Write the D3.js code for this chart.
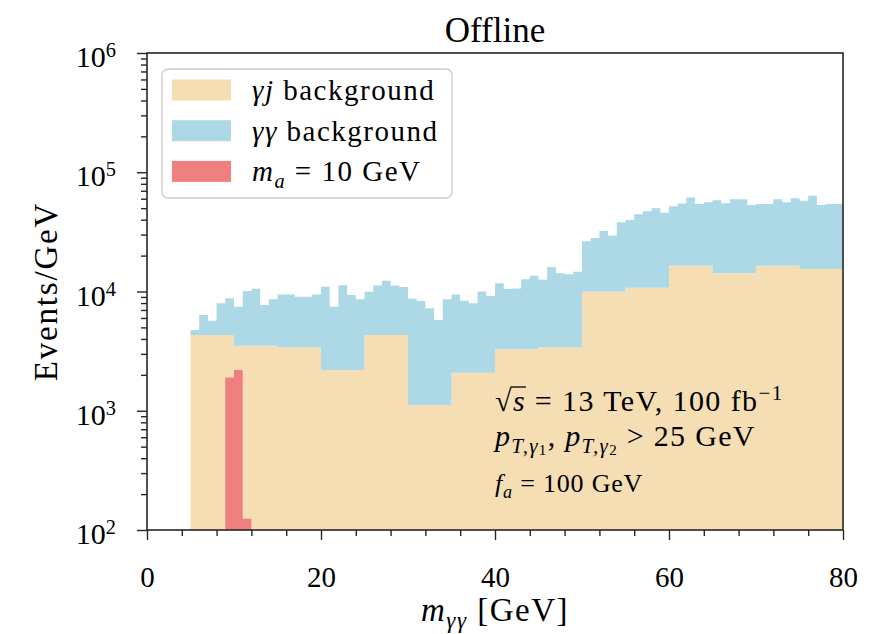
<!DOCTYPE html>
<html>
<head>
<meta charset="utf-8">
<script src="https://cdn.jsdelivr.net/npm/d3@7"></script>
<style>
  body { margin: 0; background: #fff; }
  svg { display: block; }
  text { font-family: "Liberation Serif", "DejaVu Serif", serif; fill: #000; white-space: pre; }
</style>
</head>
<body>
<svg id="chart" width="870" height="634"></svg>
<script>
// gamma+jet background, 5 GeV bins (Events/GeV)
const bgEdges = [5, 10, 15, 20, 25, 30, 35, 40, 45, 50, 55, 60, 65, 70, 75, 80];
const gammaJet = [4320, 3510, 3400, 2200, 4320, 1120, 2080, 3280, 3400, 9950, 10760, 16450, 14210, 16450, 15440];

// diphoton background, 1 GeV bins from 5 to 80 GeV (stacked on gamma+jet)
const diphotonStart = 5;
const diphoton = [
    440,  2030,  1370,  3640,  4450,
   3950,  6590,  7050,  4190,  5090,
   6030,  6030,  5640,  5640,  6030,
   8780,  5260,  9100,  7150,  6420,
   5640,  6910,  7980,  6910,  6590,
   7580,  7200,  6110,  4640,  7480,
   7350,  6290,  5880,  7920,  7080,
   8440,  7220,  7320,  9380, 10290,
   9160, 12650, 10810, 10530, 11250,
  16460, 18140, 22210, 19530, 28090,
  29010, 33640, 36270, 39100, 35020,
  35470, 38140, 44980, 37730, 39650,
  43980, 40700, 45110, 45110, 38930,
  37730, 37730, 42870, 39530, 44030,
  42290, 48020, 37700, 38740, 38740
];

// signal, m_a = 10 GeV
const signalEdges = [9, 10, 11, 12];
const signal = [1900, 2200, 124];

const xTicks = [0, 20, 40, 60, 80];
const xMinorStep = 4;
const yTickExponents = [2, 3, 4, 5, 6];

const colors = { gammaJet: "#f5deb3", diphoton: "#add8e6", signal: "#f08080" };

const svg = d3.select("#chart");
const plot = { left: 147, right: 843, top: 53, bottom: 530 };

const x = d3.scaleLinear().domain([0, 80]).range([plot.left, plot.right]);
const y = d3.scaleLog().domain([1e2, 1e6]).range([plot.bottom, plot.top]);
const yMin = y.domain()[0];

svg.append("defs").append("clipPath").attr("id", "plotClip")
  .append("rect")
  .attr("x", plot.left).attr("y", plot.top)
  .attr("width", plot.right - plot.left).attr("height", plot.bottom - plot.top);

const area = d3.area()
  .x(d => x(d.x))
  .y0(d => y(d.lo))
  .y1(d => y(d.hi));

// flat-topped steps for a histogram
function steps(edges, lo, hi) {
  const pts = [];
  for (let i = 0; i < edges.length - 1; i++) {
    pts.push({ x: edges[i], lo: lo(i), hi: hi(i) });
    pts.push({ x: edges[i + 1], lo: lo(i), hi: hi(i) });
  }
  return pts;
}

const jetIndex = m => bgEdges.findIndex((e, i) => m >= e && m < bgEdges[i + 1]);
const dpEdges = d3.range(diphotonStart, diphotonStart + diphoton.length + 1);
const dpBase = i => gammaJet[jetIndex(dpEdges[i])];

const hist = svg.append("g").attr("clip-path", "url(#plotClip)");

hist.append("path")
  .attr("d", area(steps(bgEdges, () => yMin, i => gammaJet[i])))
  .attr("fill", colors.gammaJet);

hist.append("path")
  .attr("d", area(steps(dpEdges, i => dpBase(i), i => dpBase(i) + diphoton[i])))
  .attr("fill", colors.diphoton);

hist.append("path")
  .attr("d", area(steps(signalEdges, () => yMin, i => signal[i])))
  .attr("fill", colors.signal);

// text with italic / sub / superscript runs
function rich(sel, xPos, yPos, size, parts, anchor, spacing) {
  const t = sel.append("text")
    .attr("x", xPos).attr("y", yPos)
    .attr("font-size", size)
    .attr("letter-spacing", spacing || 0)
    .attr("text-anchor", anchor || "start");
  let cur = 0;
  parts.forEach(p => {
    const shift = (p.shift || 0) * size;
    const ts = t.append("tspan")
      .attr("dy", shift - cur)
      .attr("font-size", (p.scale || 1) * size)
      .text(p.t);
    if (p.it) ts.attr("font-style", "italic");
    cur = shift;
  });
  return t;
}

// axes
const axisColor = "#262626";
const xAxis = svg.append("g").attr("transform", `translate(0,${plot.bottom})`);
xAxis.call(d3.axisBottom(x).tickValues(d3.range(0, 81, xMinorStep).filter(v => !xTicks.includes(v)))
  .tickSize(6).tickFormat(""));
xAxis.call(g => g.select(".domain").remove());
const xMajor = svg.append("g").attr("transform", `translate(0,${plot.bottom})`);
xMajor.call(d3.axisBottom(x).tickValues(xTicks).tickSize(10).tickPadding(47).tickFormat(d3.format("d")));
xMajor.select(".domain").remove();
xMajor.selectAll("text").attr("dy", 0).attr("font-size", 29).attr("font-family", null).attr("fill", "#000");

const yMinorVals = [];
yTickExponents.slice(0, -1).forEach(e => d3.range(2, 10).forEach(m => yMinorVals.push(m * Math.pow(10, e))));
const yAxisMinor = svg.append("g").attr("transform", `translate(${plot.left},0)`);
yAxisMinor.call(d3.axisLeft(y).tickValues(yMinorVals).tickSize(6).tickFormat(""));
yAxisMinor.select(".domain").remove();
const yAxis = svg.append("g").attr("transform", `translate(${plot.left},0)`);
yAxis.call(d3.axisLeft(y).tickValues(yTickExponents.map(e => Math.pow(10, e))).tickSize(10).tickFormat(""));
yAxis.select(".domain").remove();
svg.selectAll(".tick line").attr("stroke", axisColor).attr("stroke-width", 1.4);

yTickExponents.forEach(e => {
  rich(svg, 116, y(Math.pow(10, e)) + 14, 30, [
    { t: "10" },
    { t: String(e), shift: -0.33, scale: 0.68 }
  ], "end");
});

svg.append("rect")
  .attr("x", plot.left).attr("y", plot.top)
  .attr("width", plot.right - plot.left).attr("height", plot.bottom - plot.top)
  .attr("fill", "none").attr("stroke", axisColor).attr("stroke-width", 1.6);

// title and axis labels
svg.append("text").attr("x", (plot.left + plot.right) / 2).attr("y", 42)
  .attr("text-anchor", "middle").attr("font-size", 35).text("Offline");

rich(svg, (plot.left + plot.right) / 2, 621, 33, [
  { t: "m", it: true },
  { t: "γγ", it: true, shift: 0.22, scale: 0.7 },
  { t: " [GeV]" }
], "middle", 1.5);

svg.append("text")
  .attr("transform", `translate(57,${(plot.top + plot.bottom) / 2}) rotate(-90)`)
  .attr("text-anchor", "middle").attr("font-size", 33).attr("letter-spacing", 1.8)
  .text("Events/GeV");

// legend
const legend = svg.append("g");
legend.append("rect")
  .attr("x", 162).attr("y", 69).attr("width", 290).attr("height", 129).attr("rx", 6)
  .attr("fill", "#fff").attr("fill-opacity", 0.8)
  .attr("stroke", "#cccccc").attr("stroke-width", 1.3);
const legendItems = [
  { color: colors.gammaJet, parts: [{ t: "γj", it: true }, { t: " background" }] },
  { color: colors.diphoton, parts: [{ t: "γγ", it: true }, { t: " background" }] },
  { color: colors.signal, parts: [{ t: "m", it: true }, { t: "a", it: true, shift: 0.22, scale: 0.7 }, { t: " = 10 GeV" }] }
];
legendItems.forEach((item, i) => {
  const cy = 90 + i * 40.7;
  legend.append("rect").attr("x", 172).attr("y", cy - 10.5).attr("width", 59).attr("height", 21)
    .attr("fill", item.color);
  rich(legend, 252, cy + 10, 29, item.parts, "start", 1.5);
});

// run conditions
const note = svg.append("g");
const l1 = rich(note, 495, 411, 30, [
  { t: "√" }, { t: "s", it: true }, { t: " = 13 TeV, 100 fb" }, { t: "−1", shift: -0.38, scale: 0.7 }
], "start", 1.4);
const n1 = l1.node();
const rad = n1.getExtentOfChar(0), sch = n1.getExtentOfChar(1);
note.append("line")
  .attr("x1", rad.x + rad.width - 2.5).attr("x2", sch.x + sch.width)
  .attr("y1", rad.y + 3).attr("y2", rad.y + 3)
  .attr("stroke", "#000").attr("stroke-width", 1.3);

rich(note, 495, 446, 30, [
  { t: "p", it: true }, { t: "T,γ", it: true, shift: 0.22, scale: 0.7 }, { t: "1", shift: 0.3, scale: 0.5 },
  { t: ", " },
  { t: "p", it: true }, { t: "T,γ", it: true, shift: 0.22, scale: 0.7 }, { t: "2", shift: 0.3, scale: 0.5 },
  { t: " > 25 GeV" }
], "start", 1.3);

rich(note, 495, 492, 26, [
  { t: "f", it: true }, { t: "a", it: true, shift: 0.22, scale: 0.7 }, { t: " = 100 GeV" }
], "start", 0.8);
</script>
</body>
</html>
